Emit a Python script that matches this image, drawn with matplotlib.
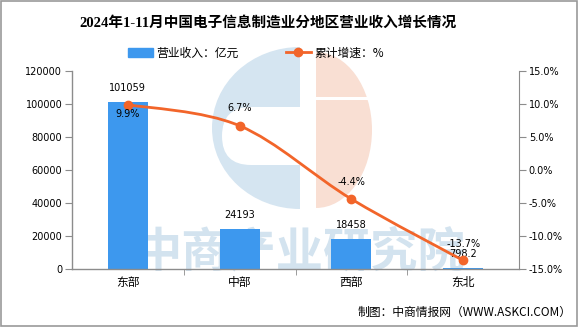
import matplotlib
matplotlib.use("Agg")
import matplotlib.pyplot as plt
from matplotlib.path import Path
from matplotlib.patches import PathPatch, Patch, Ellipse, Rectangle, FancyBboxPatch
from matplotlib.lines import Line2D
import numpy as np

# ---- data ----
categories = ["东部", "中部", "西部", "东北"]
revenue = [101059, 24193, 18458, 798.2]          # 营业收入：亿元
revenue_labels = ["101059", "24193", "18458", "798.2"]
growth = [9.9, 6.7, -4.4, -13.7]                 # 累计增速：%
growth_labels = ["9.9%", "6.7%", "-4.4%", "-13.7%"]
left_ticks = [0, 20000, 40000, 60000, 80000, 100000, 120000]
right_ticks = [-15, -10, -5, 0, 5, 10, 15]
right_tick_labels = ["-15.0%", "-10.0%", "-5.0%", "0.0%", "5.0%", "10.0%", "15.0%"]
title = "2024年1-11月中国电子信息制造业分地区营业收入增长情况"
legend_bar = "营业收入：亿元"
legend_line = "累计增速：%"
source = "制图：中商情报网（WWW.ASKCI.COM）"
watermark = "中商产业研究院"

BAR = "#3D98EE"
LINE = "#F2652A"
SPINE = "#8C8C8C"
CJK = ["Noto Sans CJK SC", "DejaVu Sans"]
NUM = ["DejaVu Sans"]

W, H = 585, 327
fig = plt.figure(figsize=(W / 100, H / 100), dpi=100)
fig.patch.set_facecolor("white")

# background logo (pixel coordinates)
bg = fig.add_axes([0, 0, 1, 1], zorder=-1)
bg.set_xlim(0, W)
bg.set_ylim(H, 0)
bg.axis("off")
blue_e = Ellipse((300, 128), 176, 162, color="#D5E5F1", lw=0)
bg.add_patch(blue_e)
clip_b = Rectangle((0, 0), 300, H, transform=bg.transData)
blue_e.set_clip_path(clip_b)
bg.add_patch(FancyBboxPatch((222, 107), 110, 58,
                            boxstyle="round,pad=0,rounding_size=29",
                            color="white", lw=0))
peach = Ellipse((316, 130), 112, 156, color="#F9DFD3", lw=0)
bg.add_patch(peach)
clip_p = Rectangle((316, 0), 200, H, transform=bg.transData)
peach.set_clip_path(clip_p)
bg.add_patch(Rectangle((316, 97), 60, 3, color="white", lw=0))
# watermark text (behind the bars)
bg.text(300, 252, watermark, fontsize=34, family=CJK, weight="bold",
        color="#D3E3EF", ha="center", va="center")
# border
bg.add_patch(Rectangle((1, 1), 576, 325, fill=False, ec="#999999", lw=1.2))

# main axes
left, right, bottom, top = 72, 519, 269, 71
ax = fig.add_axes([left / W, 1 - bottom / H, (right - left) / W, (bottom - top) / H])
ax.patch.set_alpha(0)
x = np.arange(len(categories))
ax.bar(x, revenue, width=0.357, color=BAR, zorder=2)
ax.set_xlim(-0.5, len(categories) - 0.5)
ax.set_ylim(0, 120000)
ax.set_yticks(left_ticks)
ax.set_yticklabels([str(t) for t in left_ticks], fontsize=7, family=NUM)
ax.set_xticks(x)
ax.set_xticklabels(categories, fontsize=8.5, family=CJK)
ax.set_xticks(x[:-1] + 0.5, minor=True)
ax.tick_params(axis="x", which="major", length=0, pad=5)
ax.tick_params(axis="x", which="minor", length=4, color=SPINE, direction="out")
ax.tick_params(axis="y", length=5, color=SPINE, pad=2)
for s in ["top", "right"]:
    ax.spines[s].set_visible(False)
for s in ["left", "bottom"]:
    ax.spines[s].set_color(SPINE)
    ax.spines[s].set_linewidth(1)

for xi, v, lab in zip(x, revenue, revenue_labels):
    ax.annotate(lab, (xi, v), xytext=(0, 10), textcoords="offset points",
                ha="center", va="center", fontsize=7, family=NUM, zorder=6)

# line on twin axis
ax2 = ax.twinx()
ax2.set_ylim(-15, 15)
ax2.set_yticks(right_ticks)
ax2.set_yticklabels(right_tick_labels, fontsize=7, family=NUM)
ax2.tick_params(axis="y", length=5, color=SPINE, pad=2)
for s in ["top", "left", "bottom"]:
    ax2.spines[s].set_visible(False)
ax2.spines["right"].set_color(SPINE)

# smooth curve through points (Catmull-Rom -> cubic Bezier)
pts = np.column_stack([x, growth]).astype(float)
ext = np.vstack([pts[0], pts, pts[-1]])
verts = [tuple(pts[0])]
codes = [Path.MOVETO]
for i in range(len(pts) - 1):
    p0, p1, p2, p3 = ext[i], ext[i + 1], ext[i + 2], ext[i + 3]
    c1 = p1 + (p2 - p0) / 6.0
    c2 = p2 - (p3 - p1) / 6.0
    verts += [tuple(c1), tuple(c2), tuple(p2)]
    codes += [Path.CURVE4] * 3
ax2.add_patch(PathPatch(Path(verts, codes), fill=False, ec=LINE, lw=2, zorder=3,
                        capstyle="round", joinstyle="round"))
ax2.plot(x, growth, ls="none", marker="o", ms=6, color=LINE, zorder=4)

offsets = [-7, 13, 12, 12]
for xi, v, lab, off in zip(x, growth, growth_labels, offsets):
    ax2.annotate(lab, (xi, v), xytext=(0, off), textcoords="offset points",
                 ha="center", va="center", fontsize=7, family=NUM, zorder=6)

# title
fig.text(268 / W, 1 - 23 / H, title, ha="center", va="center",
         fontsize=10.5, weight="bold", family=["Liberation Serif", "Noto Sans CJK SC"])

# legend
handles = [Patch(color=BAR),
           Line2D([0], [0], color=LINE, lw=2, marker="o", ms=6)]
fig.legend(handles, [legend_bar, legend_line], loc="center",
           bbox_to_anchor=(256 / W, 1 - 53 / H), ncol=2, frameon=False,
           prop={"family": CJK, "size": 8.5}, handlelength=2.1,
           handleheight=0.9, handletextpad=0.3, columnspacing=4.0,
           borderpad=0, borderaxespad=0)

# source
fig.text(572 / W, 1 - 312 / H, source, ha="right", va="center",
         fontsize=8.5, family=CJK)

fig.savefig("out.png", dpi=100)
